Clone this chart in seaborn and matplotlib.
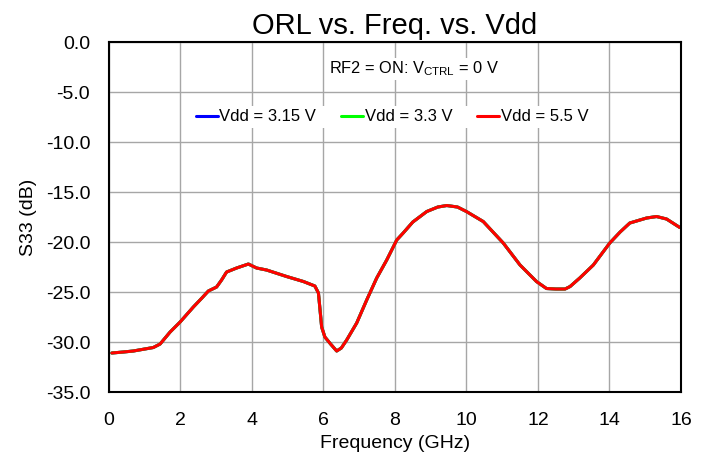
import pandas as pd
import numpy as np
import seaborn as sns
import matplotlib.pyplot as plt

# frequency points (GHz) and S33 (dB)
freq = [0.08, 0.4, 0.68, 1.0, 1.24, 1.43, 1.71, 1.99, 2.36, 2.6, 2.78, 3.01, 3.15, 3.29, 3.57,
        3.9, 4.13, 4.41, 4.97, 5.44, 5.76, 5.86, 5.95, 6.04, 6.2, 6.37, 6.5, 6.65, 6.93,
        7.21, 7.49, 7.77, 8.05, 8.23, 8.5, 8.89, 9.2, 9.45, 9.75, 10.0, 10.47, 11.03,
        11.5, 11.96, 12.24, 12.5, 12.76, 12.9, 13.17, 13.55, 14.01, 14.3, 14.57, 15.04,
        15.32, 15.6, 15.97]
s33_315 = [-31.1, -31.0, -30.9, -30.7, -30.55, -30.2, -29.0, -28.0, -26.5, -25.6, -24.9,
           -24.5, -23.8, -23.0, -22.6, -22.2, -22.6, -22.8, -23.45, -23.95, -24.4, -25.1,
           -28.5, -29.5, -30.2, -30.9, -30.6, -29.8, -28.1, -25.8, -23.6, -21.8, -19.8,
           -19.1, -18.0, -16.95, -16.5, -16.35, -16.5, -16.95, -17.95, -20.1, -22.3,
           -23.95, -24.65, -24.7, -24.7, -24.45, -23.6, -22.3, -20.1, -19.0, -18.1, -17.6,
           -17.45, -17.7, -18.55]
s33_33 = list(s33_315)
s33_55 = list(s33_315)

series = {"Vdd = 3.15 V": s33_315, "Vdd = 3.3 V": s33_33, "Vdd = 5.5 V": s33_55}
colors = ["#0000ff", "#00ff00", "#ff0000"]

df = pd.concat([pd.DataFrame({"freq": freq, "s33": v, "vdd": k}) for k, v in series.items()],
               ignore_index=True)

sns.set_theme(style="whitegrid")
plt.rcParams["font.family"] = ["Liberation Sans", "DejaVu Sans"]
plt.rcParams["text.color"] = "black"

fig = plt.figure(figsize=(7.1, 4.62), dpi=100)
ax = fig.add_axes([0.1535, 0.1515, 0.8055, 0.7575])

sns.lineplot(data=df, x="freq", y="s33", hue="vdd", palette=colors, linewidth=2.2,
             ax=ax, legend=True)

ax.set_xlim(0, 16)
ax.set_ylim(-35, 0)
ax.set_xticks(np.arange(0, 17, 2))
ax.set_yticks(np.arange(-35, 0.1, 5))
ax.set_yticklabels([f"{v:.1f}" for v in np.arange(-35, 0.1, 5)])
ax.grid(True, color="#a6a6a6", linewidth=1.0)
for s in ax.spines.values():
    s.set_color("black")
    s.set_linewidth(1.5)
ax.tick_params(axis="both", labelsize=14, colors="black", length=0)
ax.tick_params(axis="x", pad=14.5)
ax.tick_params(axis="y", pad=13.5)
ax.set_xlabel("Frequency (GHz)", fontsize=14, color="black", labelpad=4)
ax.set_ylabel("S33 (dB)", fontsize=14, color="black", labelpad=6)
ax.set_title("ORL vs. Freq. vs. Vdd", fontsize=21, color="black", pad=6)

ax.text(0.533, 0.923, r"RF2 = ON: V$_{\mathregular{CTRL}}$ = 0 V", transform=ax.transAxes,
        ha="center", va="center", fontsize=11.8, color="black",
        bbox=dict(facecolor="white", edgecolor="none", pad=1))

leg = ax.legend(loc="center", bbox_to_anchor=(0.495, 0.786), ncol=3, frameon=True,
                fontsize=12, handlelength=1.3, handletextpad=0.1, columnspacing=1.5,
                borderpad=0.2, fancybox=False, labelcolor="black")
leg.get_frame().set_edgecolor("none")
leg.get_frame().set_facecolor("white")
leg.get_frame().set_alpha(1)

fig.savefig("out.png", dpi=100)
